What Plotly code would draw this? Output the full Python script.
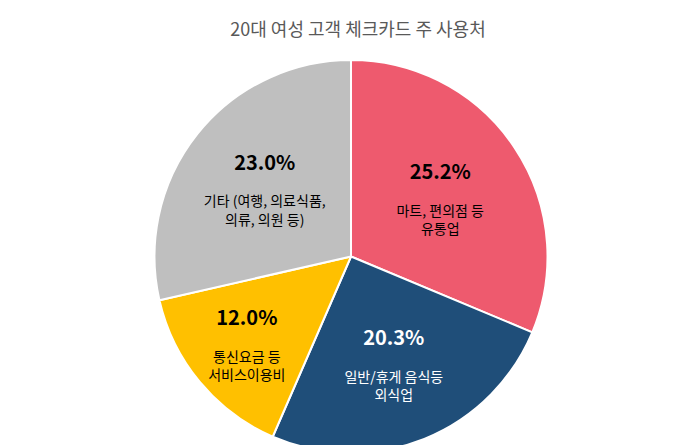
import plotly.graph_objects as go

labels = ["마트, 편의점 등<br>유통업", "일반/휴게 음식등<br>외식업", "통신요금 등<br>서비스이용비", "기타 (여행, 의료식품,<br>의류, 의원 등)"]
values = [25.2, 20.3, 12.0, 23.0]
colors = ["#EE5A6E", "#1F4E79", "#FFC000", "#BFBFBF"]
text_colors = ["black", "white", "black", "black"]

texts = [f"<span style='font-size:20px'><b>{v:.1f}%</b></span><br><br>{l}" for v, l in zip(values, labels)]

fig = go.Figure(go.Pie(
    values=values, labels=labels, text=texts, textinfo="text",
    sort=False, direction="clockwise", rotation=0,
    marker=dict(colors=colors, line=dict(color="white", width=2)),
    textposition="inside", insidetextorientation="horizontal",
    textfont=dict(family="Noto Sans CJK KR", size=14, color=text_colors),
    hoverinfo="skip", showlegend=False,
))
fig.update_layout(
    width=700, height=445,
    margin=dict(t=52, b=0, l=0, r=14),
    paper_bgcolor="white",
    title=dict(text="20대 여성 고객 체크카드 주 사용처", x=0.5, y=0.965, xanchor="center",
               font=dict(family="Noto Sans CJK KR", size=18, color="#595959")),
)
fig.write_html("out.html")
